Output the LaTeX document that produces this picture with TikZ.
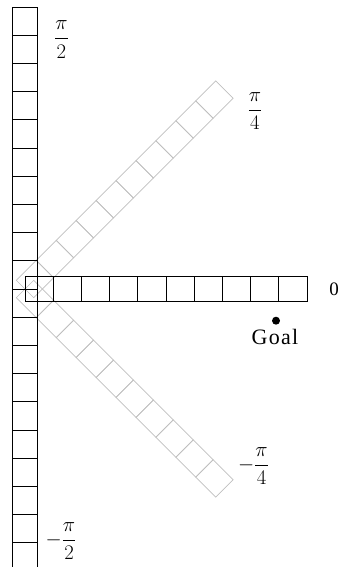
\documentclass[tikz,border=0pt]{standalone}
\usepackage{amsmath}
\usepackage{fontspec}
\setmainfont{Liberation Serif}
\tikzset{
  cellblack/.style={draw=black, line width=0.7pt},
  cellgray/.style={draw=black!25, line width=0.7pt},
  anglelabel/.style={font=\fontsize{20}{24}\selectfont, inner sep=0pt},
}
\newcommand{\celllen}{28.2}
\newcommand{\cellwid}{12.25}

\begin{document}
\begin{tikzpicture}[x=1pt, y=1pt]
  \useasboundingbox (-25,-278) rectangle (315,289);

  % diagonal arms (gray)
  \foreach \ang in {45,-45}{
    \begin{scope}[rotate=\ang]
      \foreach \i in {0,...,9}
        \draw[cellgray] (\i*\celllen,-\cellwid) rectangle ({(\i+1)*\celllen},\cellwid);
    \end{scope}
  }

  % vertical and horizontal arms
  \foreach \ang in {90,0,-90}{
    \begin{scope}[rotate=\ang]
      \foreach \i in {0,...,9}
        \draw[cellblack] (\i*\celllen,-\cellwid) rectangle ({(\i+1)*\celllen},\cellwid);
    \end{scope}
  }

  % angle labels
  \node[anglelabel] (pihalf) at (36.5,249.5) {$\dfrac{\pi}{2}$};
  \node[anglelabel] (piquarter) at (230,178) {$\dfrac{\pi}{4}$};
  \node[anglelabel, font=\fontsize{19}{22}\selectfont] (zero) at (309,0) {0};
  \node[anglelabel] (mpiquarter) at (228.5,-177) {$-\dfrac{\pi}{4}$};
  \node[anglelabel] (mpihalf) at (36,-252) {$-\dfrac{\pi}{2}$};

  % goal
  \node[circle, fill=black, inner sep=0pt, minimum size=8pt] (goaldot) at (251,-31.7) {};
  \node[font=\fontsize{22}{26}\selectfont\addfontfeatures{LetterSpace=6}, anchor=base, inner sep=0pt] (goal) at (250,-56) {Goal};
\end{tikzpicture}
\end{document}
